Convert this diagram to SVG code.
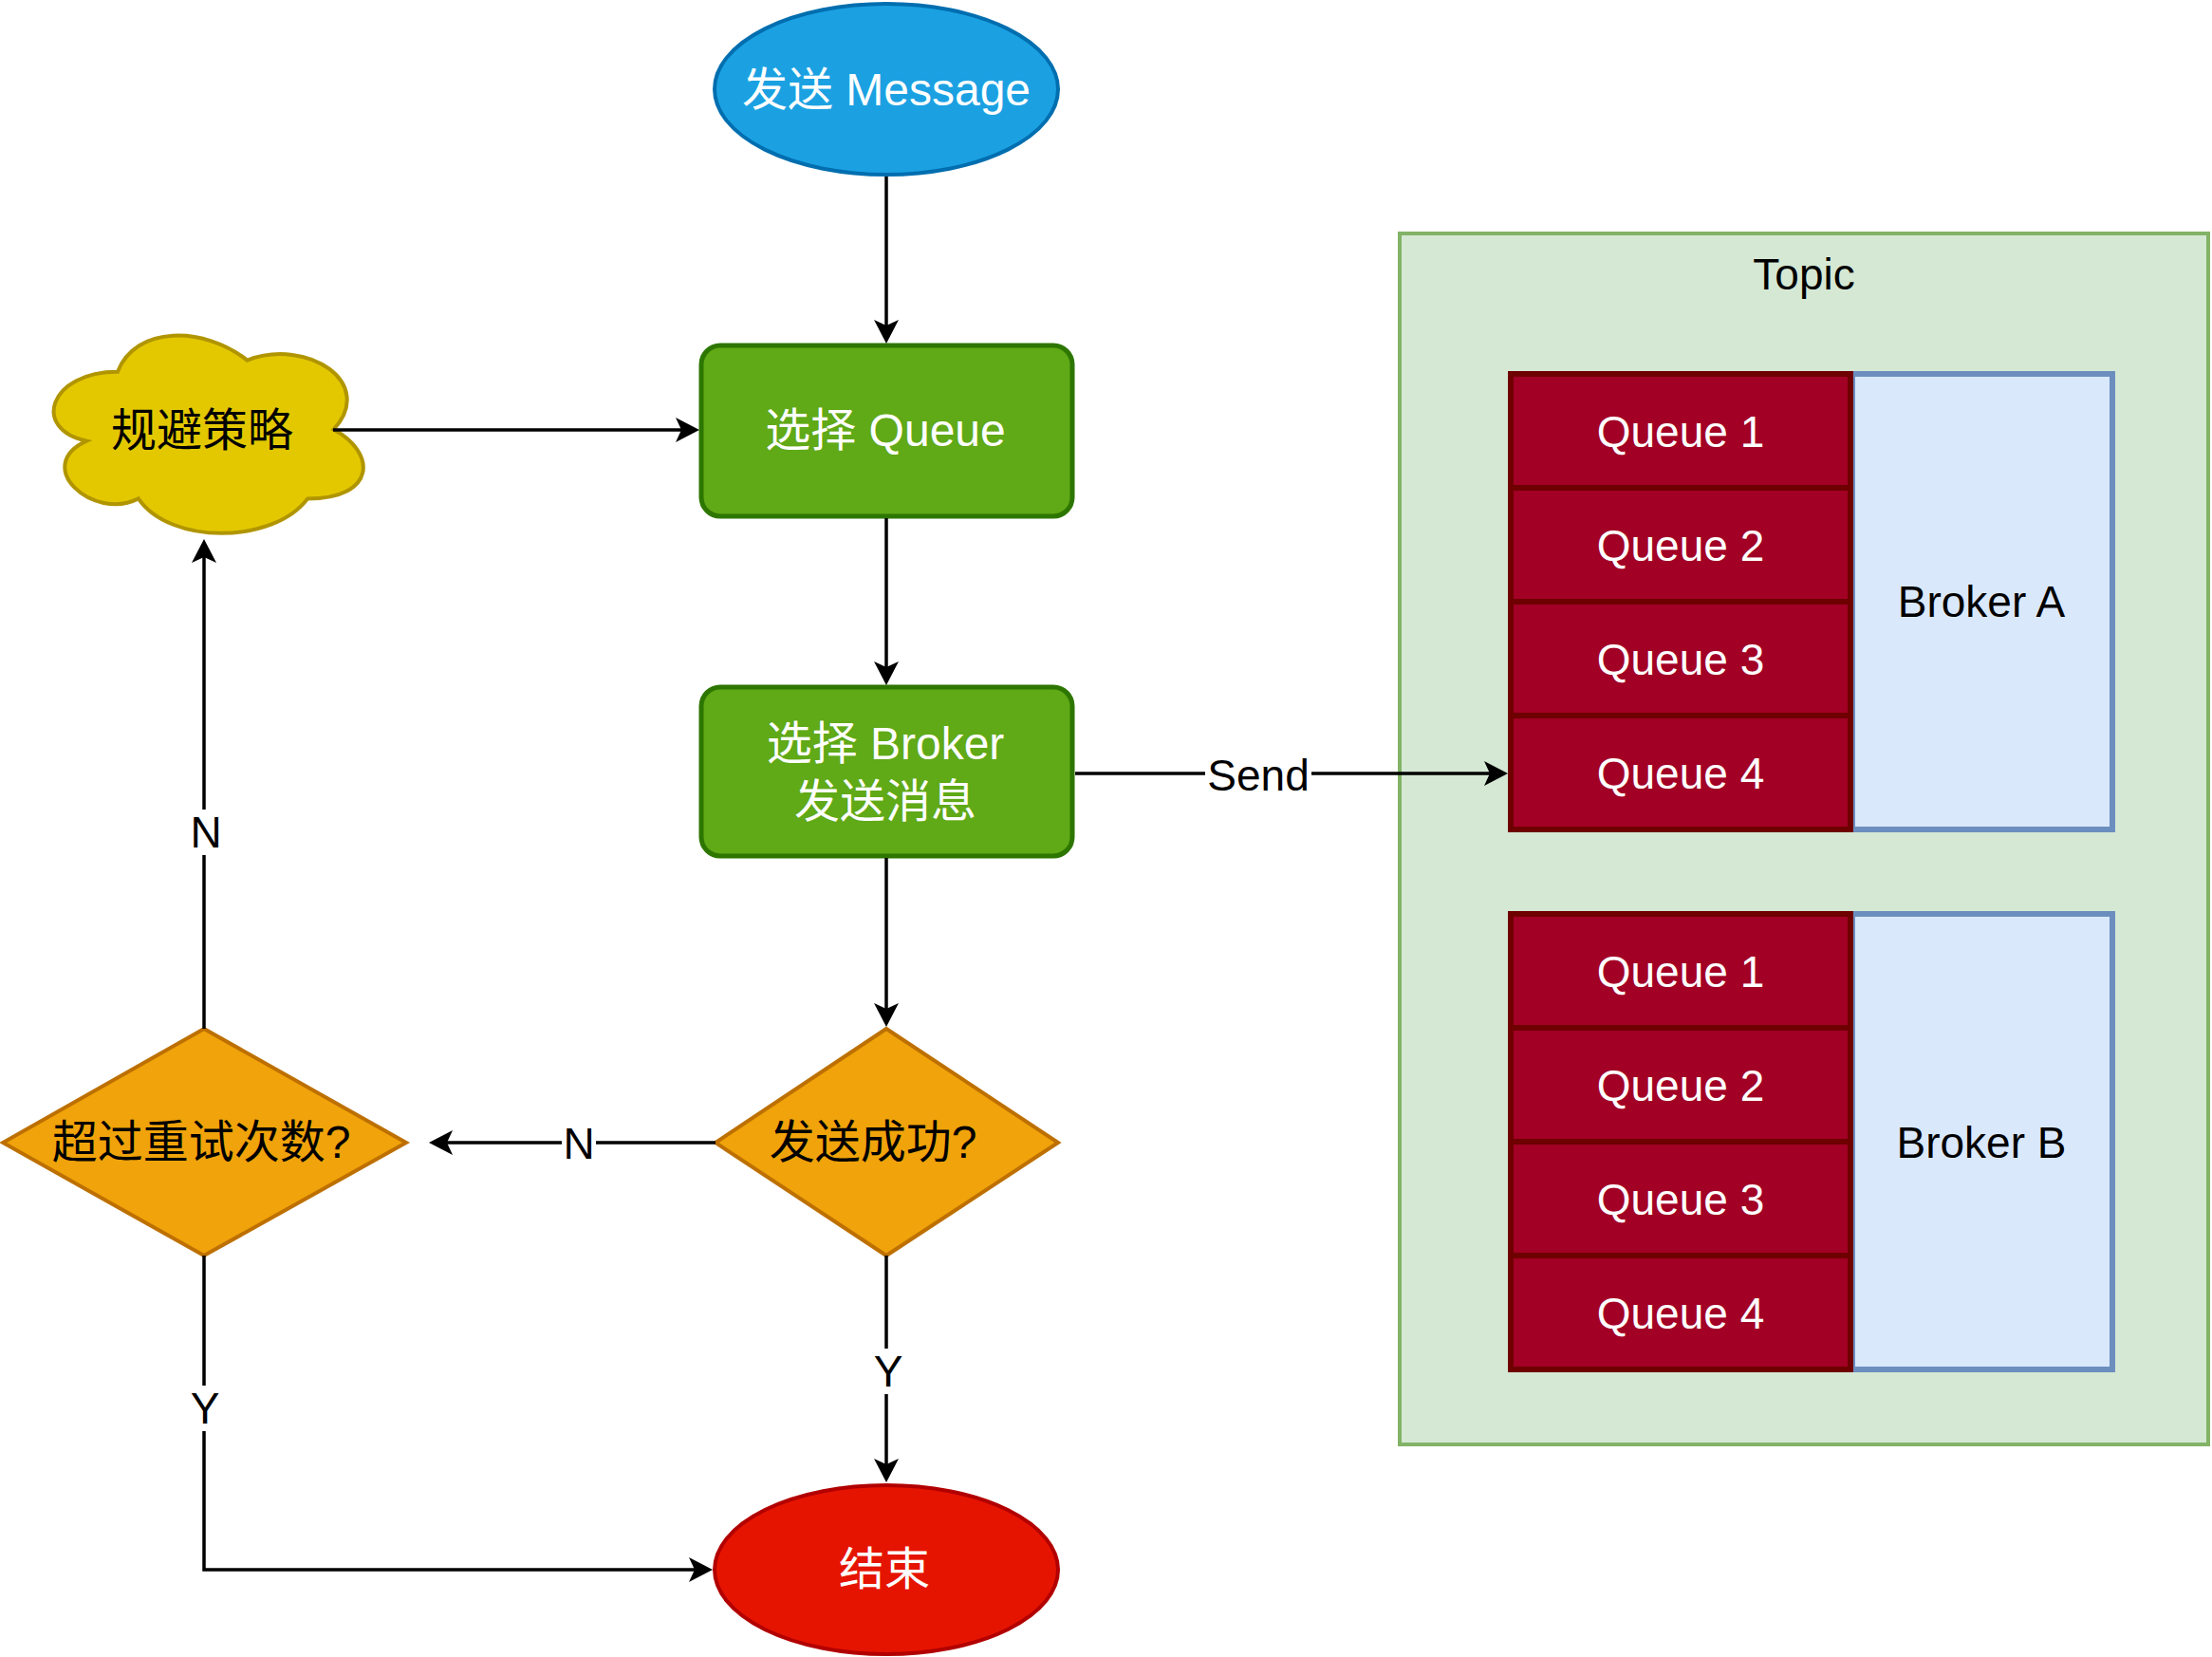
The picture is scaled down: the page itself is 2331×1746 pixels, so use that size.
<svg xmlns="http://www.w3.org/2000/svg" width="2331" height="1746" viewBox="0 0 2331 1746">
<style>
text{font-family:"Liberation Sans","Noto Sans CJK SC",sans-serif;text-anchor:middle}
.w{fill:#ffffff}
.k{fill:#000000}
.f48{font-size:48px}
.f46{font-size:46px}
.edge{fill:none;stroke:#000000;stroke-width:3.5;marker-end:url(#arr)}
.lbl{fill:#ffffff}
.queue{fill:#a20025;stroke:#6f0000;stroke-width:6}
.broker{fill:#dae8fc;stroke:#6c8ebf;stroke-width:6}
.dia{fill:#f0a30a;stroke:#bd7000;stroke-width:4}
.proc{fill:#60a917;stroke:#2d7600;stroke-width:5}
</style>
<defs>
<marker id="arr" markerUnits="userSpaceOnUse" markerWidth="28" markerHeight="28" refX="19" refY="13" orient="auto">
<path d="M0,0 L25,13 L0,26 L6,13 Z" fill="#000000"/>
</marker>
</defs>
<rect width="2331" height="1746" fill="#ffffff"/>

<g id="topic">
<rect x="1475" y="246" width="852" height="1276" fill="#d5e8d4" stroke="#82b366" stroke-width="4"/>
<text x="1901" y="305" class="f46 k">Topic</text>
</g>

<g id="brokerA">
<rect x="1952" y="394" width="274" height="480" class="broker"/>
<text x="2088" y="650" class="f46 k">Broker A</text>
</g>
<g id="brokerA-queues">
<rect x="1592" y="394" width="358" height="120" class="queue"/>
<text x="1771" y="471" class="f46 w">Queue 1</text>
<rect x="1592" y="514" width="358" height="120" class="queue"/>
<text x="1771" y="591" class="f46 w">Queue 2</text>
<rect x="1592" y="634" width="358" height="120" class="queue"/>
<text x="1771" y="711" class="f46 w">Queue 3</text>
<rect x="1592" y="754" width="358" height="120" class="queue"/>
<text x="1771" y="831" class="f46 w">Queue 4</text>
</g>

<g id="brokerB">
<rect x="1952" y="963" width="274" height="480" class="broker"/>
<text x="2088" y="1220" class="f46 k">Broker B</text>
</g>
<g id="brokerB-queues">
<rect x="1592" y="963" width="358" height="120" class="queue"/>
<text x="1771" y="1040" class="f46 w">Queue 1</text>
<rect x="1592" y="1083" width="358" height="120" class="queue"/>
<text x="1771" y="1160" class="f46 w">Queue 2</text>
<rect x="1592" y="1203" width="358" height="120" class="queue"/>
<text x="1771" y="1280" class="f46 w">Queue 3</text>
<rect x="1592" y="1323" width="358" height="120" class="queue"/>
<text x="1771" y="1400" class="f46 w">Queue 4</text>
</g>

<g id="start">
<ellipse cx="934" cy="94" rx="181" ry="90" fill="#1ba1e2" stroke="#006eaf" stroke-width="4"/>
<text x="934" y="111" class="f48 w">发送 Message</text>
</g>

<g id="selectQueue">
<rect x="739" y="364" width="391" height="180" rx="20" class="proc"/>
<text x="933" y="470" class="f48 w">选择 Queue</text>
</g>

<g id="avoid">
<path d="M124,391.75 C51.2,391.75 33,452.5 91.24,464.65 C33,491.38 98.52,549.7 145.84,525.4 C178.6,574 287.8,574 324.2,525.4 C397,525.4 397,476.8 351.5,452.5 C397,403.9 324.2,355.3 260.5,379.6 C215,343.15 142.2,343.15 124,391.75 Z" fill="#e3c800" stroke="#b09500" stroke-width="4"/>
<text x="213" y="470" class="f48 k">规避策略</text>
</g>

<g id="selectBroker">
<rect x="739" y="724" width="391" height="178" rx="20" class="proc"/>
<text x="933" y="800" class="f48 w">选择 Broker</text>
<text x="933" y="861" class="f48 w">发送消息</text>
</g>

<g id="success">
<polygon points="934,1084 1115,1204 934,1323 754,1204" class="dia"/>
<text x="920" y="1220" class="f48 k">发送成功?</text>
</g>

<g id="retry">
<polygon points="215,1084 428,1204 215,1323 3,1204" class="dia"/>
<text x="212" y="1220" class="f48 k">超过重试次数?</text>
</g>

<g id="end">
<ellipse cx="934" cy="1654" rx="181" ry="89" fill="#e51400" stroke="#b20000" stroke-width="4"/>
<text x="932" y="1670" class="f48 w">结束</text>
</g>

<g id="connectors">
<path class="edge" d="M934,186 L934,356"/>
<path class="edge" d="M351,453 L731,453"/>
<path class="edge" d="M934,546 L934,716"/>
<path class="edge" d="M1133,815 L1583,815"/>
<path class="edge" d="M934,904 L934,1076"/>
<path class="edge" d="M754,1204 L458,1204"/>
<path class="edge" d="M215,1084 L215,574"/>
<path class="edge" d="M215,1323 L215,1654 L745,1654"/>
<path class="edge" d="M934,1323 L934,1556"/>
<rect x="1270" y="790" width="112" height="50" class="lbl"/>
<text x="1326" y="833" class="f46 k">Send</text>
<rect x="592" y="1180" width="36" height="48" class="lbl"/>
<text x="610" y="1221" class="f46 k">N</text>
<rect x="198" y="853" width="38" height="48" class="lbl"/>
<text x="217" y="893" class="f46 k">N</text>
<rect x="198" y="1460" width="36" height="48" class="lbl"/>
<text x="216" y="1500" class="f46 k">Y</text>
<rect x="918" y="1421" width="36" height="48" class="lbl"/>
<text x="936" y="1461" class="f46 k">Y</text>
</g>
</svg>
